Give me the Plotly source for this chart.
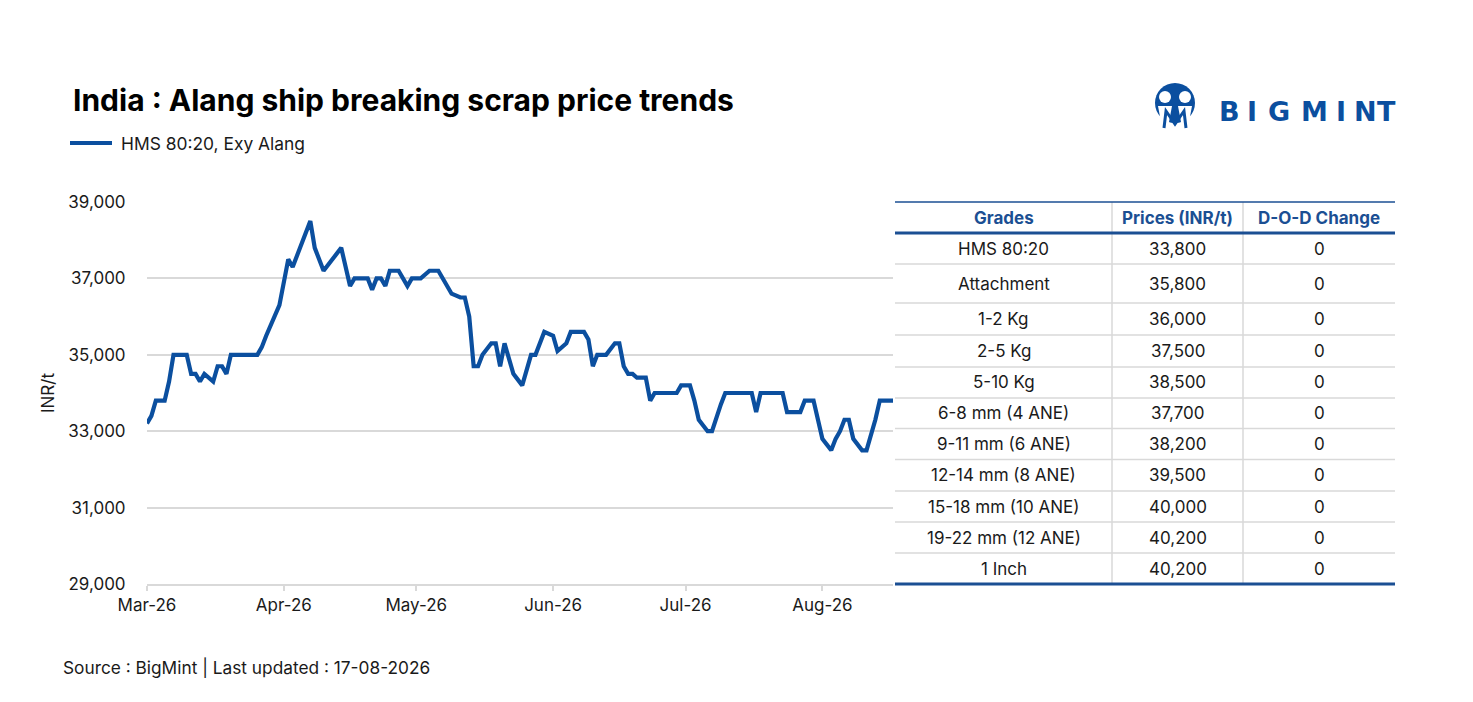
import plotly.graph_objects as go

W, H = 1473, 702

# ---------------- data ----------------
dates = [
    "2026-03-01", "2026-03-02", "2026-03-03", "2026-03-05", "2026-03-06", "2026-03-07",
    "2026-03-10", "2026-03-11", "2026-03-12", "2026-03-13", "2026-03-14", "2026-03-16",
    "2026-03-17", "2026-03-18", "2026-03-19", "2026-03-20", "2026-03-26", "2026-03-27",
    "2026-03-28", "2026-03-30", "2026-03-31", "2026-04-02", "2026-04-03", "2026-04-04",
    "2026-04-07", "2026-04-08", "2026-04-10", "2026-04-14", "2026-04-16", "2026-04-17",
    "2026-04-20", "2026-04-21", "2026-04-22", "2026-04-23", "2026-04-24", "2026-04-25",
    "2026-04-27", "2026-04-29", "2026-04-30", "2026-05-02", "2026-05-04", "2026-05-06",
    "2026-05-09", "2026-05-11", "2026-05-12", "2026-05-13", "2026-05-14", "2026-05-15",
    "2026-05-16", "2026-05-18", "2026-05-19", "2026-05-20", "2026-05-21", "2026-05-23",
    "2026-05-25", "2026-05-27", "2026-05-28", "2026-05-30", "2026-06-01", "2026-06-02",
    "2026-06-04", "2026-06-05", "2026-06-08", "2026-06-09", "2026-06-10", "2026-06-11",
    "2026-06-13", "2026-06-15", "2026-06-16", "2026-06-17", "2026-06-18", "2026-06-19",
    "2026-06-20", "2026-06-22", "2026-06-23", "2026-06-24", "2026-06-29", "2026-06-30",
    "2026-07-02", "2026-07-03", "2026-07-04", "2026-07-06", "2026-07-07", "2026-07-09",
    "2026-07-10", "2026-07-16", "2026-07-17", "2026-07-18", "2026-07-23", "2026-07-24",
    "2026-07-27", "2026-07-28", "2026-07-30", "2026-08-01", "2026-08-03", "2026-08-04",
    "2026-08-05", "2026-08-06", "2026-08-07", "2026-08-08", "2026-08-10", "2026-08-11",
    "2026-08-13", "2026-08-14", "2026-08-17",
]
hms_prices = [
    33200, 33400, 33800, 33800, 34300, 35000,
    35000, 34500, 34500, 34300, 34500, 34300,
    34700, 34700, 34500, 35000, 35000, 35200,
    35500, 36000, 36300, 37500, 37300, 37600,
    38500, 37800, 37200, 37800, 36800, 37000,
    37000, 36700, 37000, 37000, 36800, 37200,
    37200, 36800, 37000, 37000, 37200, 37200,
    36600, 36500, 36500, 36000, 34700, 34700,
    35000, 35300, 35300, 34700, 35300, 34500,
    34200, 35000, 35000, 35600, 35500, 35100,
    35300, 35600, 35600, 35400, 34700, 35000,
    35000, 35300, 35300, 34700, 34500, 34500,
    34400, 34400, 33800, 34000, 34000, 34200,
    34200, 33800, 33300, 33000, 33000, 33700,
    34000, 34000, 33500, 34000, 34000, 33500,
    33500, 33800, 33800, 32800, 32500, 32800,
    33000, 33300, 33300, 32800, 32500, 32500,
    33300, 33800, 33800,
]

y_ticks = [29000, 31000, 33000, 35000, 37000, 39000]

table_header = ["Grades", "Prices (INR/t)", "D-O-D Change"]
grades = ["HMS 80:20", "Attachment", "1-2 Kg", "2-5 Kg", "5-10 Kg", "6-8 mm (4 ANE)",
          "9-11 mm (6 ANE)", "12-14 mm (8 ANE)", "15-18 mm (10 ANE)",
          "19-22 mm (12 ANE)", "1 Inch"]
grade_prices = [33800, 35800, 36000, 37500, 38500, 37700, 38200, 39500, 40000, 40200, 40200]
dod_change = [0, 0, 0, 0, 0, 0, 0, 0, 0, 0, 0]

title_text = "India : Alang ship breaking scrap price trends"
series_name = "HMS 80:20, Exy Alang"
source_text = "Source : BigMint | Last updated : 17-08-2026"

# ---------------- style ----------------
FONT = "Inter, Roboto, sans-serif"
BLUE = "#0b4f9f"
HEAD_BLUE = "#1b4f93"
GRID = "#d9d9d9"
TXT = "#1a1a1a"
FS = 17


def px(x):
    return x / W


def py(y):
    return 1 - y / H


fig = go.Figure()
fig.add_trace(go.Scatter(
    x=dates, y=hms_prices, mode="lines", name=series_name,
    line=dict(color=BLUE, width=4.2), showlegend=False,
))

shapes = []
ann = []

# title
ann.append(dict(x=px(71), y=py(100), xref="paper", yref="paper", xanchor="left", yanchor="middle",
                text="<b>%s</b>" % title_text, showarrow=False,
                font=dict(family=FONT, size=30, color="#000000")))
# legend (manual)
shapes.append(dict(type="line", xref="paper", yref="paper", x0=px(70), x1=px(112), y0=py(143), y1=py(143),
                   line=dict(color=BLUE, width=4.2)))
ann.append(dict(x=px(119), y=py(143), xref="paper", yref="paper", xanchor="left", yanchor="middle",
                text=series_name, showarrow=False, font=dict(family=FONT, size=17.4, color=TXT)))
# y title
ann.append(dict(x=px(48), y=py(393), xref="paper", yref="paper", xanchor="center", yanchor="middle",
                text="INR/t", textangle=-90, showarrow=False, font=dict(family=FONT, size=FS, color=TXT)))
# source
ann.append(dict(x=px(61), y=py(667), xref="paper", yref="paper", xanchor="left", yanchor="middle",
                text=source_text, showarrow=False, font=dict(family=FONT, size=17.3, color=TXT)))

# ---------------- table ----------------
tx0, tx1 = 895, 1395
col_edges = [895, 1112, 1243, 1395]
row_edges = [233, 264, 303, 335, 367, 398, 428.5, 459.5, 491, 522, 553, 584]
head_top = 202

for i in range(1, len(row_edges) - 1):
    shapes.append(dict(type="line", xref="paper", yref="paper", x0=px(tx0), x1=px(tx1),
                       y0=py(row_edges[i]), y1=py(row_edges[i]), line=dict(color=GRID, width=1.5)))
for c in col_edges[1:-1]:
    shapes.append(dict(type="line", xref="paper", yref="paper", x0=px(c), x1=px(c),
                       y0=py(head_top), y1=py(584), line=dict(color=GRID, width=1.5)))
shapes.append(dict(type="line", xref="paper", yref="paper", x0=px(tx0), x1=px(tx1),
                   y0=py(head_top), y1=py(head_top), line=dict(color=HEAD_BLUE, width=1.5)))
shapes.append(dict(type="line", xref="paper", yref="paper", x0=px(tx0), x1=px(tx1),
                   y0=py(233), y1=py(233), line=dict(color=HEAD_BLUE, width=3)))
shapes.append(dict(type="line", xref="paper", yref="paper", x0=px(tx0), x1=px(tx1),
                   y0=py(584), y1=py(584), line=dict(color=HEAD_BLUE, width=3)))

col_centers = [(col_edges[i] + col_edges[i + 1]) / 2 for i in range(3)]
for j, h in enumerate(table_header):
    ann.append(dict(x=px(col_centers[j]), y=py((head_top + 233) / 2), xref="paper", yref="paper",
                    xanchor="center", yanchor="middle", text="<b>%s</b>" % h, showarrow=False,
                    font=dict(family=FONT, size=FS, color=HEAD_BLUE)))
for i, g in enumerate(grades):
    yc = (row_edges[i] + row_edges[i + 1]) / 2
    cells = [g, "{:,}".format(grade_prices[i]), str(dod_change[i])]
    for j, t in enumerate(cells):
        ann.append(dict(x=px(col_centers[j]), y=py(yc), xref="paper", yref="paper",
                        xanchor="center", yanchor="middle", text=t, showarrow=False,
                        font=dict(family=FONT, size=FS, color=TXT)))

# ---------------- logo ----------------
cx, cy, r = 1175, 103, 20
shapes.append(dict(type="circle", xref="paper", yref="paper", x0=px(cx - r), x1=px(cx + r),
                   y0=py(cy + r), y1=py(cy - r), fillcolor=BLUE, line=dict(width=0)))
for hx in (1165, 1185):
    shapes.append(dict(type="circle", xref="paper", yref="paper", x0=px(hx - 6), x1=px(hx + 6),
                       y0=py(97 + 6), y1=py(97 - 6), fillcolor="white", line=dict(width=0)))
for bx in (1165, 1185):
    shapes.append(dict(type="path", xref="paper", yref="paper",
                       path="M %f,%f L %f,%f L %f,%f L %f,%f Z" % (
                           px(bx - 7), py(106), px(bx + 7), py(106), px(bx + 4), py(122), px(bx - 4), py(122)),
                       fillcolor="white", line=dict(width=0)))
shapes.append(dict(type="path", xref="paper", yref="paper",
                   path="M %f,%f L %f,%f L %f,%f L %f,%f L %f,%f" % (
                       px(1164), py(128), px(1166), py(111), px(1175), py(124), px(1184), py(111), px(1186), py(128)),
                   line=dict(color=BLUE, width=3)))
logo_letters = ["B", "I", "G", "M", "I", "N", "T"]
logo_x = [1229, 1252, 1279, 1314, 1341, 1365, 1386]
for L, lx in zip(logo_letters, logo_x):
    ann.append(dict(x=px(lx), y=py(111), xref="paper", yref="paper", xanchor="center", yanchor="middle",
                    text="<b>%s</b>" % L, showarrow=False,
                    font=dict(family="DejaVu Sans, Inter, sans-serif", size=27, color=BLUE)))

fig.update_layout(
    width=W, height=H, margin=dict(l=0, r=0, t=0, b=0, pad=0, autoexpand=False),
    paper_bgcolor="white", plot_bgcolor="white",
    font=dict(family=FONT, size=FS, color=TXT),
    xaxis=dict(domain=[px(147), px(893)], type="date", range=["2026-03-01", "2026-08-17"],
               tick0="2026-03-01", dtick="M1", tickformat="%b-%y", automargin=False,
               showgrid=False, showline=True, linecolor=GRID, linewidth=1.5,
               ticks="outside", ticklen=5, tickcolor=GRID, tickwidth=1.5,
               tickfont=dict(family=FONT, size=FS, color=TXT), zeroline=False),
    yaxis=dict(domain=[py(584), py(202)], range=[29000, 39000], tickvals=y_ticks, automargin=False,
               tickformat=",d", showgrid=True, gridcolor=GRID, gridwidth=1.5,
               ticks="outside", ticklen=17, tickcolor="rgba(0,0,0,0)",
               tickfont=dict(family=FONT, size=FS, color=TXT), zeroline=False, showline=False),
    shapes=shapes, annotations=ann,
)

fig.write_html("out.html", config={"displayModeBar": False},
               post_script="document.body.style.margin='0';document.body.style.overflow='hidden';")
